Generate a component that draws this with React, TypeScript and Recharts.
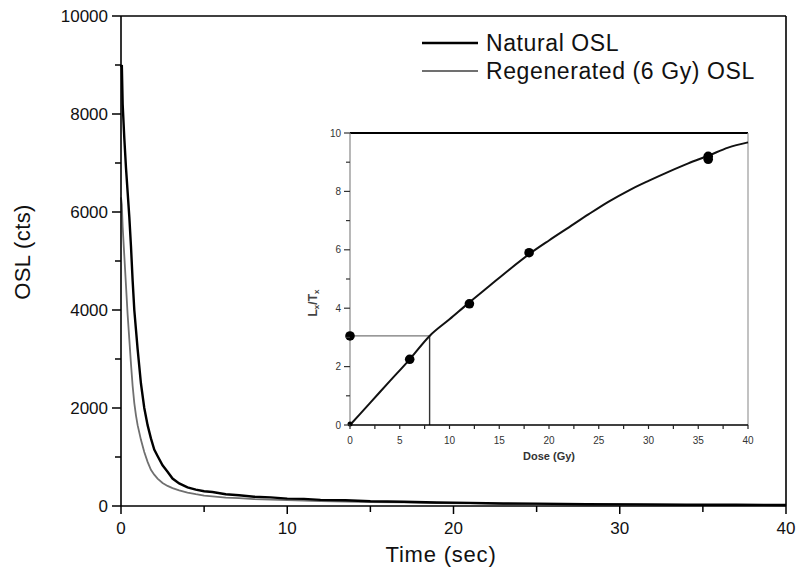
import {
  LineChart,
  ComposedChart,
  Line,
  Scatter,
  XAxis,
  YAxis,
  ReferenceLine,
  Legend,
  Label,
} from "recharts"

const FONT = '"Liberation Sans", Arial, sans-serif'

// decay curves, time in sec, counts in cts
const TIME = [
  0, 0.05, 0.1, 0.2, 0.3, 0.4, 0.5, 0.6, 0.7, 0.8, 0.9, 1.0, 1.2, 1.4, 1.6, 1.8, 2.0, 2.2, 2.5, 2.8,
  3.1, 3.5, 4.0, 4.5, 5.0, 5.5, 6.3, 7.1, 8, 9, 10, 11, 12, 13.5, 15, 17, 19, 21, 23, 25, 28, 31,
  34, 37, 40,
]
const NATURAL = [
  8950, 9000, 8200, 7500, 6900, 6400, 5900, 5300, 4600, 4000, 3600, 3200, 2500, 2000, 1650, 1380,
  1150, 1020, 830, 700, 560, 460, 380, 335, 300, 285, 240, 220, 190, 175, 150, 145, 125, 118, 98,
  88, 70, 64, 50, 48, 36, 33, 27, 26, 21,
]
const REGEN = [
  6300, 6150, 5700, 5100, 4500, 3900, 3400, 2900, 2450, 2100, 1850, 1650, 1350, 1100, 900, 740,
  640, 560, 470, 410, 365, 320, 275, 240, 210, 198, 172, 160, 142, 132, 118, 112, 98, 92, 78, 72,
  58, 54, 44, 41, 33, 31, 25, 24, 19,
]

const X_TICKS = [0, 5, 10, 15, 20, 25, 30, 35, 40]
const Y_TICKS = [0, 1000, 2000, 3000, 4000, 5000, 6000, 7000, 8000, 9000, 10000]

// inset dose response
const FIT_DOSE = [0, 2, 4, 6, 8, 10, 12, 14, 16, 18, 20, 22, 24, 26, 28, 30, 32, 34, 36, 38, 40]
const FIT_LX = [
  0, 0.75, 1.5, 2.25, 3.05, 3.62, 4.2, 4.76, 5.32, 5.85, 6.32, 6.77, 7.22, 7.65, 8.03, 8.36, 8.67,
  8.96, 9.22, 9.5, 9.68,
]
const POINT_DOSE = [0, 6, 12, 18, 36, 36]
const POINT_LX = [3.05, 2.25, 4.15, 5.9, 9.2, 9.1]
const ZERO_DOSE = [0]
const ZERO_LX = [0.03]
const NATURAL_RATIO = 3.05
const EQUIV_DOSE = 8

const INSET_X_TICKS = [0, 2.5, 5, 7.5, 10, 12.5, 15, 17.5, 20, 22.5, 25, 27.5, 30, 32.5, 35, 37.5, 40]
const INSET_Y_TICKS = [0, 1, 2, 3, 4, 5, 6, 7, 8, 9, 10]

const mainData = TIME.map((t, i) => ({ time: t, natural: NATURAL[i], regen: REGEN[i] }))
const fitData = FIT_DOSE.map((d, i) => ({ dose: d, lx: FIT_LX[i] }))
const pointData = POINT_DOSE.map((d, i) => ({ dose: d, lx: POINT_LX[i] }))
const zeroData = ZERO_DOSE.map((d, i) => ({ dose: d, lx: ZERO_LX[i] }))

const SERIES_STYLE: Record<string, { color: string; width: number }> = {
  natural: { color: "#000", width: 2.4 },
  regen: { color: "#707070", width: 1.8 },
}

function MainXTick({ x, y, payload }: any) {
  const major = payload.value % 10 === 0
  return (
    <g>
      <line x1={x} x2={x} y1={y} y2={y + (major ? 8 : 6)} stroke="#000" strokeWidth={1.5} />
      {major && (
        <text x={x} y={y + 28} textAnchor="middle" fontSize={17} fontFamily={FONT} fill="#111">
          {payload.value}
        </text>
      )}
    </g>
  )
}

function MainYTick({ x, y, payload }: any) {
  const major = payload.value % 2000 === 0
  return (
    <g>
      <line x1={x} x2={x - (major ? 9 : 6)} y1={y} y2={y} stroke="#000" strokeWidth={1.5} />
      {major && (
        <text x={x - 13} y={y + 6} textAnchor="end" fontSize={17} fontFamily={FONT} fill="#111">
          {payload.value}
        </text>
      )}
    </g>
  )
}

function InsetXTick({ x, y, payload }: any) {
  const major = payload.value % 5 === 0
  return (
    <g>
      <line x1={x} x2={x} y1={y} y2={y + 4} stroke="#222" strokeWidth={1.2} />
      {major && (
        <text x={x} y={y + 19} textAnchor="middle" fontSize={10} fontFamily={FONT} fill="#333">
          {payload.value}
        </text>
      )}
    </g>
  )
}

function InsetYTick({ x, y, payload }: any) {
  const major = payload.value % 2 === 0
  return (
    <g>
      <line x1={x} x2={x - (major ? 6 : 4)} y1={y} y2={y} stroke="#333" strokeWidth={1.2} />
      {major && (
        <text x={x - 9} y={y + 3.5} textAnchor="end" fontSize={10} fontFamily={FONT} fill="#333">
          {payload.value}
        </text>
      )}
    </g>
  )
}

function renderLegend({ payload }: any) {
  return (
    <svg width={360} height={60}>
      {(payload || []).map((p: any, i: number) => {
        const st = SERIES_STYLE[p.dataKey] || { color: "#000", width: 2 }
        const cy = 14 + i * 28
        return (
          <g key={p.dataKey}>
            <line x1={2} x2={58} y1={cy} y2={cy} stroke={st.color} strokeWidth={st.width} />
            <text
              x={66}
              y={cy + 8}
              fontSize={23}
              letterSpacing={0.6}
              fontFamily={FONT}
              fill="#111"
            >
              {p.value}
            </text>
          </g>
        )
      })}
    </svg>
  )
}

function Inset() {
  return (
    <ComposedChart
      width={470}
      height={345}
      margin={{ top: 13, right: 12, bottom: 0, left: 0 }}
      style={{ position: "absolute", left: 290, top: 120 }}
    >
      <XAxis
        dataKey="dose"
        type="number"
        domain={[0, 40]}
        ticks={INSET_X_TICKS}
        interval={0}
        height={40}
        tick={<InsetXTick />}
        tickLine={false}
        tickSize={0}
        tickMargin={0}
        axisLine={{ stroke: "#000", strokeWidth: 1.6 }}
      >
        <Label
          content={({ viewBox }: any) => (
            <text
              x={viewBox.x + viewBox.width / 2}
              y={viewBox.y + 35}
              textAnchor="middle"
              fontSize={11}
              fontWeight="bold"
              fontFamily={FONT}
              fill="#333"
            >
              Dose (Gy)
            </text>
          )}
        />
      </XAxis>
      <YAxis
        type="number"
        domain={[0, 10]}
        ticks={INSET_Y_TICKS}
        interval={0}
        width={60}
        tick={<InsetYTick />}
        tickLine={false}
        tickSize={0}
        tickMargin={0}
        axisLine={{ stroke: "#888", strokeWidth: 1.2 }}
      >
        <Label
          content={({ viewBox }: any) => {
            const cx = viewBox.x + 23
            const cy = viewBox.y + viewBox.height / 2 + 24
            return (
              <text
                x={cx}
                y={cy}
                textAnchor="middle"
                dominantBaseline="central"
                transform={`rotate(-90 ${cx} ${cy})`}
                fontSize={12}
                fontWeight="bold"
                fontFamily={FONT}
                fill="#444"
              >
                L<tspan fontSize={8} dy={3}>x</tspan>
                <tspan dy={-3}>/T</tspan>
                <tspan fontSize={8} dy={3}>x</tspan>
              </text>
            )
          }}
        />
      </YAxis>
      <ReferenceLine y={10} stroke="#000" strokeWidth={1.8} />
      <ReferenceLine x={40} stroke="#999" strokeWidth={1.2} />
      <ReferenceLine
        segment={[
          { x: 0, y: NATURAL_RATIO },
          { x: EQUIV_DOSE, y: NATURAL_RATIO },
        ]}
        stroke="#777"
        strokeWidth={1.2}
      />
      <ReferenceLine
        segment={[
          { x: EQUIV_DOSE, y: NATURAL_RATIO },
          { x: EQUIV_DOSE, y: 0 },
        ]}
        stroke="#333"
        strokeWidth={1.4}
      />
      <Line
        data={fitData}
        dataKey="lx"
        type="monotone"
        stroke="#111"
        strokeWidth={2}
        dot={false}
        isAnimationActive={false}
      />
      <Scatter
        data={pointData}
        dataKey="lx"
        fill="#000"
        shape={(p: any) => <circle cx={p.cx} cy={p.cy} r={4.8} fill="#000" />}
        isAnimationActive={false}
      />
      <Scatter
        data={zeroData}
        dataKey="lx"
        fill="#000"
        shape={(p: any) => <circle cx={p.cx} cy={p.cy} r={2.5} fill="#000" />}
        isAnimationActive={false}
      />
    </ComposedChart>
  )
}

export default function App() {
  return (
    <div
      style={{
        position: "absolute",
        left: 0,
        top: 0,
        width: 800,
        height: 578,
        background: "#fff",
        fontFamily: FONT,
      }}
    >
      <LineChart
        width={800}
        height={578}
        data={mainData}
        margin={{ top: 16, right: 14, bottom: 0, left: 0 }}
      >
        <XAxis
          dataKey="time"
          type="number"
          domain={[0, 40]}
          ticks={X_TICKS}
          interval={0}
          height={72}
          tick={<MainXTick />}
          tickLine={false}
          tickSize={0}
          tickMargin={0}
          axisLine={{ stroke: "#000", strokeWidth: 1.6 }}
        >
          <Label
            content={({ viewBox }: any) => (
              <text
                x={441}
                y={viewBox.y + 56}
                textAnchor="middle"
                fontSize={22}
                letterSpacing={0.8}
                fontFamily={FONT}
                fill="#111"
              >
                Time (sec)
              </text>
            )}
          />
        </XAxis>
        <YAxis
          type="number"
          domain={[0, 10000]}
          ticks={Y_TICKS}
          interval={0}
          width={121}
          tick={<MainYTick />}
          tickLine={false}
          tickSize={0}
          tickMargin={0}
          axisLine={{ stroke: "#000", strokeWidth: 1.6 }}
        >
          <Label
            content={() => {
              const cx = 22
              const cy = 252
              return (
                <text
                  x={cx}
                  y={cy}
                  textAnchor="middle"
                  dominantBaseline="central"
                  transform={`rotate(-90 ${cx} ${cy})`}
                  fontSize={22}
                  letterSpacing={0.4}
                  fontFamily={FONT}
                  fill="#111"
                >
                  OSL (cts)
                </text>
              )
            }}
          />
        </YAxis>
        <ReferenceLine y={10000} stroke="#000" strokeWidth={1.6} />
        <ReferenceLine x={40} stroke="#000" strokeWidth={1.6} />
        <Legend
          layout="horizontal"
          verticalAlign="middle"
          align="center"
          content={renderLegend}
          wrapperStyle={{ left: 420, top: 29, width: 360, height: 60 }}
        />
        <Line
          dataKey="regen"
          name="Regenerated (6 Gy) OSL"
          type="linear"
          stroke={SERIES_STYLE.regen.color}
          strokeWidth={SERIES_STYLE.regen.width}
          dot={false}
          isAnimationActive={false}
        />
        <Line
          dataKey="natural"
          name="Natural OSL"
          type="linear"
          stroke={SERIES_STYLE.natural.color}
          strokeWidth={SERIES_STYLE.natural.width}
          dot={false}
          isAnimationActive={false}
        />
      </LineChart>
      <Inset />
    </div>
  )
}
